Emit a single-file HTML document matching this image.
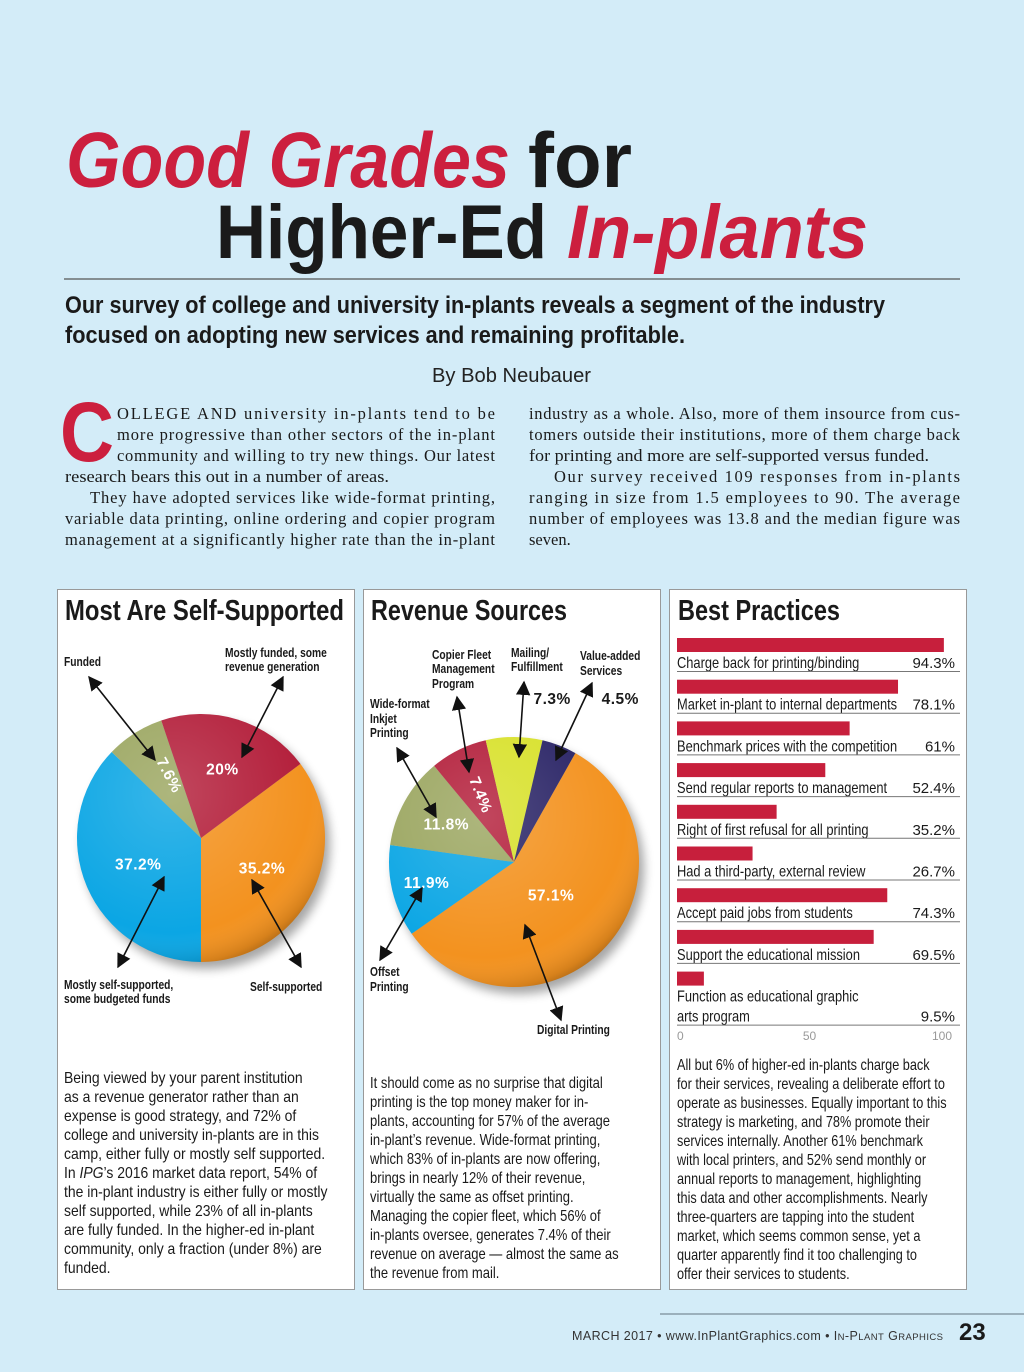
<!DOCTYPE html>
<html><head><meta charset="utf-8">
<style>
html,body{margin:0;padding:0;background:#d3ecf8;}
svg{display:block;}
.sans{font-family:"Liberation Sans",sans-serif;}
.serif{font-family:"Liberation Serif",serif;}
</style></head>
<body>
<svg id="page" width="1024" height="1372" viewBox="0 0 1024 1372" xmlns="http://www.w3.org/2000/svg">
<defs>
<radialGradient id="shade" cx="0.38" cy="0.32" r="0.75">
<stop offset="0" stop-color="#fff" stop-opacity="0.18"/>
<stop offset="0.75" stop-color="#fff" stop-opacity="0"/>
<stop offset="0.92" stop-color="#000" stop-opacity="0.12"/>
<stop offset="1" stop-color="#000" stop-opacity="0.35"/>
</radialGradient>
<filter id="blur" x="-20%" y="-20%" width="140%" height="140%"><feGaussianBlur stdDeviation="5"/></filter>
<marker id="ah" viewBox="0 0 10 10" refX="9" refY="5" markerWidth="9" markerHeight="9" orient="auto-start-reverse"><path d="M0,0 L10,5 L0,10 z" fill="#111"/></marker>
</defs>
<rect x="0" y="0" width="1024" height="1372" fill="#d3ecf8"/>

<!-- Headline -->
<g class="sans" font-weight="bold">
<text x="66" y="187" font-size="78" font-style="italic" fill="#cc1f3e" textLength="444" lengthAdjust="spacingAndGlyphs">Good Grades</text>
<text x="528" y="187" font-size="78" fill="#1a1a1a" textLength="104" lengthAdjust="spacingAndGlyphs">for</text>
<text x="216" y="258" font-size="76" fill="#1a1a1a" textLength="331" lengthAdjust="spacingAndGlyphs">Higher-Ed</text>
<text x="567" y="258" font-size="76" font-style="italic" fill="#cc1f3e" textLength="301" lengthAdjust="spacingAndGlyphs">In-plants</text>
</g>
<line x1="64" y1="279" x2="960" y2="279" stroke="#555" stroke-width="1.2"/>
<g class="sans" font-weight="bold" fill="#1a1a1a">
<text x="65" y="313" font-size="24" textLength="820" lengthAdjust="spacingAndGlyphs">Our survey of college and university in-plants reveals a segment of the industry</text>
<text x="65" y="343" font-size="24" textLength="620" lengthAdjust="spacingAndGlyphs">focused on adopting new services and remaining profitable.</text>
</g>
<text x="432" y="382" class="sans" font-size="20" fill="#222" textLength="159" lengthAdjust="spacingAndGlyphs">By Bob Neubauer</text>

<!-- Body text -->
<g class="serif" font-size="16.5" fill="#1a1a1a">
<text x="60" y="461" class="sans" font-weight="bold" font-size="84" fill="#cc1f3e" textLength="54" lengthAdjust="spacingAndGlyphs">C</text>
<text x="117" y="419" textLength="378" lengthAdjust="spacing">OLLEGE AND university in-plants tend to be</text>
<text x="117" y="440" textLength="378" lengthAdjust="spacing">more progressive than other sectors of the in-plant</text>
<text x="117" y="461" textLength="378" lengthAdjust="spacing">community and willing to try new things. Our latest</text>
<text x="65" y="482" textLength="324" lengthAdjust="spacingAndGlyphs">research bears this out in a number of areas.</text>
<text x="90" y="503" textLength="405" lengthAdjust="spacing">They have adopted services like wide-format printing,</text>
<text x="65" y="524" textLength="430" lengthAdjust="spacing">variable data printing, online ordering and copier program</text>
<text x="65" y="545" textLength="430" lengthAdjust="spacing">management at a significantly higher rate than the in-plant</text>
<text x="529" y="419" textLength="431" lengthAdjust="spacing">industry as a whole. Also, more of them insource from cus-</text>
<text x="529" y="440" textLength="431" lengthAdjust="spacing">tomers outside their institutions, more of them charge back</text>
<text x="529" y="461" textLength="400" lengthAdjust="spacingAndGlyphs">for printing and more are self-supported versus funded.</text>
<text x="554" y="482" textLength="406" lengthAdjust="spacing">Our survey received 109 responses from in-plants</text>
<text x="529" y="503" textLength="431" lengthAdjust="spacing">ranging in size from 1.5 employees to 90. The average</text>
<text x="529" y="524" textLength="431" lengthAdjust="spacing">number of employees was 13.8 and the median figure was</text>
<text x="529" y="545">seven.</text>
</g>

<!-- Panels -->
<rect x="57.5" y="589.5" width="297" height="700" fill="#fff" stroke="#999"/>
<rect x="363.5" y="589.5" width="297" height="700" fill="#fff" stroke="#999"/>
<rect x="669.5" y="589.5" width="297" height="700" fill="#fff" stroke="#999"/>
<g class="sans" font-weight="bold" font-size="29" fill="#1a1a1a">
<text x="65" y="620" textLength="279" lengthAdjust="spacingAndGlyphs">Most Are Self-Supported</text>
<text x="371" y="620" textLength="196" lengthAdjust="spacingAndGlyphs">Revenue Sources</text>
<text x="678" y="620" textLength="162" lengthAdjust="spacingAndGlyphs">Best Practices</text>
</g>

<g id="pie1"></g>
<g id="pie2"></g>
<g id="bars"></g>

<!-- Pie 1 annotations -->
<g class="sans" font-weight="bold" font-size="12.5" fill="#1a1a1a">
<g transform="translate(64,0) scale(0.82,1)"><text x="0" y="666">Funded</text></g>
<g transform="translate(225,0) scale(0.82,1)"><text x="0" y="657">Mostly funded, some</text><text x="0" y="671">revenue generation</text></g>
<g transform="translate(64,0) scale(0.82,1)"><text x="0" y="989">Mostly self-supported,</text><text x="0" y="1003">some budgeted funds</text></g>
<g transform="translate(250,0) scale(0.82,1)"><text x="0" y="991">Self-supported</text></g>
</g>
<g stroke="#111" stroke-width="1.6" marker-start="url(#ah)" marker-end="url(#ah)">
<line x1="89" y1="677" x2="155" y2="760"/>
<line x1="283" y1="677" x2="242" y2="757"/>
<line x1="164" y1="877" x2="118" y2="967"/>
<line x1="252" y1="880" x2="301" y2="967"/>
</g>

<!-- Pie 2 annotations -->
<g class="sans" font-weight="bold" font-size="12.5" fill="#1a1a1a">
<g transform="translate(432,0) scale(0.82,1)"><text x="0" y="659">Copier Fleet</text><text x="0" y="673">Management</text><text x="0" y="688">Program</text></g>
<g transform="translate(511,0) scale(0.82,1)"><text x="0" y="657">Mailing/</text><text x="0" y="671">Fulfillment</text></g>
<g transform="translate(580,0) scale(0.82,1)"><text x="0" y="660">Value-added</text><text x="0" y="675">Services</text></g>
<g transform="translate(370,0) scale(0.82,1)"><text x="0" y="708">Wide-format</text><text x="0" y="723">Inkjet</text><text x="0" y="737">Printing</text></g>
<g transform="translate(370,0) scale(0.82,1)"><text x="0" y="976">Offset</text><text x="0" y="991">Printing</text></g>
<g transform="translate(537,0) scale(0.82,1)"><text x="0" y="1034">Digital Printing</text></g>
</g>
<g stroke="#111" stroke-width="1.6" marker-start="url(#ah)" marker-end="url(#ah)">
<line x1="457" y1="697" x2="469" y2="772"/>
<line x1="524" y1="682" x2="519" y2="757"/>
<line x1="592" y1="683" x2="556" y2="760"/>
<line x1="397" y1="748" x2="436" y2="817"/>
<line x1="380" y1="960" x2="422" y2="888"/>
<line x1="525" y1="925" x2="561" y2="1020"/>
</g>

<!-- Panel text -->
<g class="sans" font-size="15.5" fill="#1a1a1a">
<g transform="translate(64,0) scale(0.9,1)">
<text x="0" y="1083">Being viewed by your parent institution</text>
<text x="0" y="1102">as a revenue generator rather than an</text>
<text x="0" y="1121">expense is good strategy, and 72% of</text>
<text x="0" y="1140">college and university in-plants are in this</text>
<text x="0" y="1159">camp, either fully or mostly self supported.</text>
<text x="0" y="1178">In <tspan font-style="italic">IPG</tspan>’s 2016 market data report, 54% of</text>
<text x="0" y="1197">the in-plant industry is either fully or mostly</text>
<text x="0" y="1216">self supported, while 23% of all in-plants</text>
<text x="0" y="1235">are fully funded. In the higher-ed in-plant</text>
<text x="0" y="1254">community, only a fraction (under 8%) are</text>
<text x="0" y="1273">funded.</text>
</g></g>
<g class="sans" font-size="15.5" fill="#1a1a1a">
<g transform="translate(370,0) scale(0.84,1)">
<text x="0" y="1088">It should come as no surprise that digital</text>
<text x="0" y="1107">printing is the top money maker for in-</text>
<text x="0" y="1126">plants, accounting for 57% of the average</text>
<text x="0" y="1145">in-plant’s revenue. Wide-format printing,</text>
<text x="0" y="1164">which 83% of in-plants are now offering,</text>
<text x="0" y="1183">brings in nearly 12% of their revenue,</text>
<text x="0" y="1202">virtually the same as offset printing.</text>
<text x="0" y="1221">Managing the copier fleet, which 56% of</text>
<text x="0" y="1240">in-plants oversee, generates 7.4% of their</text>
<text x="0" y="1259">revenue on average — almost the same as</text>
<text x="0" y="1278">the revenue from mail.</text>
</g></g>
<g class="sans" font-size="15.5" fill="#1a1a1a">
<g transform="translate(677,0) scale(0.82,1)">
<text x="0" y="1070">All but 6% of higher-ed in-plants charge back</text>
<text x="0" y="1089">for their services, revealing a deliberate effort to</text>
<text x="0" y="1108">operate as businesses. Equally important to this</text>
<text x="0" y="1127">strategy is marketing, and 78% promote their</text>
<text x="0" y="1146">services internally. Another 61% benchmark</text>
<text x="0" y="1165">with local printers, and 52% send monthly or</text>
<text x="0" y="1184">annual reports to management, highlighting</text>
<text x="0" y="1203">this data and other accomplishments. Nearly</text>
<text x="0" y="1222">three-quarters are tapping into the student</text>
<text x="0" y="1241">market, which seems common sense, yet a</text>
<text x="0" y="1260">quarter apparently find it too challenging to</text>
<text x="0" y="1279">offer their services to students.</text>
</g></g>

<!-- Footer -->
<line x1="660" y1="1314" x2="1024" y2="1314" stroke="#7a8c99" stroke-width="1.2"/>
<text x="572" y="1340" class="sans" font-size="12.5" fill="#333" textLength="371" lengthAdjust="spacing">MARCH 2017  •  www.InPlantGraphics.com  •  I<tspan font-size="9.5">N</tspan>-P<tspan font-size="9.5">LANT</tspan> G<tspan font-size="9.5">RAPHICS</tspan></text>
<text x="959" y="1340" class="sans" font-weight="bold" font-size="24" fill="#1a1a1a">23</text>
</svg>

<script>
const NS = "http://www.w3.org/2000/svg";
// Pie 1: self-supported
const pie1Categories = ["Self-supported", "Mostly self-supported", "Funded", "Mostly funded"];
const pie1Values = [35.2, 37.2, 7.6, 20];
const pie1Labels = ["35.2%", "37.2%", "7.6%", "20%"];
const pie1Colors = ["#f3921f", "#0ba6e4", "#9ba660", "#b31e3a"];
// Pie 2: revenue sources
const pie2Categories = ["Digital Printing", "Offset Printing", "Wide-format Inkjet", "Copier Fleet", "Mailing/Fulfillment", "Value-added"];
const pie2Values = [57.1, 11.9, 11.8, 7.4, 7.3, 4.5];
const pie2Labels = ["57.1%", "11.9%", "11.8%", "7.4%", "7.3%", "4.5%"];
const pie2Colors = ["#f3921f", "#0ba6e4", "#9ba660", "#b31e3a", "#d8e12a", "#2a2466"];
// Bars: best practices
const barCategories = ["Charge back for printing/binding", "Market in-plant to internal departments", "Benchmark prices with the competition", "Send regular reports to management", "Right of first refusal for all printing", "Had a third-party, external review", "Accept paid jobs from students", "Support the educational mission", "Function as educational graphic|arts program"];
const barValues = [94.3, 78.1, 61, 52.4, 35.2, 26.7, 74.3, 69.5, 9.5];
const barLabels = ["94.3%", "78.1%", "61%", "52.4%", "35.2%", "26.7%", "74.3%", "69.5%", "9.5%"];
const axisTicks = [0, 50, 100];

function mk(tag, attrs, parent) {
  const e = document.createElementNS(NS, tag);
  for (const k in attrs) e.setAttribute(k, attrs[k]);
  parent.appendChild(e);
  return e;
}
function pt(cx, cy, r, deg) {
  const a = (deg - 90) * Math.PI / 180;
  return [cx + r * Math.cos(a), cy + r * Math.sin(a)];
}
function drawPie(g, cx, cy, r, startDeg, values, colors, labels, labelSpec) {
  const total = values.reduce((a, b) => a + b, 0);
  const sh = mk("circle", {cx: cx + 5, cy: cy + 7, r: r, fill: "#000", opacity: 0.35, filter: "url(#blur)"}, g);
  
  
  let a0 = startDeg;
  values.forEach((v, i) => {
    const sweep = v / total * 360;
    const a1 = a0 + sweep;
    const p0 = pt(cx, cy, r, a0), p1 = pt(cx, cy, r, a1);
    const large = sweep > 180 ? 1 : 0;
    const p = mk("path", {d: `M${cx},${cy} L${p0[0]},${p0[1]} A${r},${r} 0 ${large} 1 ${p1[0]},${p1[1]} Z`, fill: colors[i]}, g);
    
    
    a0 = a1;
  });
  const ov = mk("circle", {cx: cx, cy: cy, r: r, fill: "url(#shade)"}, g);
  
  
  a0 = startDeg;
  values.forEach((v, i) => {
    const sweep = v / total * 360;
    const mid = a0 + sweep / 2;
    a0 += sweep;
    const s = labelSpec[i];
    let q = pt(cx, cy, r * s.f, mid);
    if (s.dx) q = [q[0] + s.dx, q[1]];
    if (s.dy) q = [q[0], q[1] + s.dy];
    const t = mk("text", {x: q[0], y: q[1] + 5, "text-anchor": "middle", fill: s.c || "#fff", "font-family": "Liberation Sans, sans-serif", "font-weight": "bold", "font-size": 15.5, "letter-spacing": "0.5"}, g);
    if (s.rot) t.setAttribute("transform", `rotate(${s.rot} ${q[0]} ${q[1]})`);
    t.textContent = labels[i];
    
    
  });
}

drawPie(document.getElementById("pie1"), 201, 838, 124, 53.3, pie1Values, pie1Colors, pie1Labels,
  [{f: 0.55}, {f: 0.55}, {f: 0.6, rot: 62, dx: 8}, {f: 0.58}]);
drawPie(document.getElementById("pie2"), 514, 862, 125, 29.4, pie2Values, pie2Colors, pie2Labels,
  [{f: 0.4}, {f: 0.72}, {f: 0.62}, {f: 0.6, rot: 68}, {f: 1.4, c: "#1a1a1a", dx: 38, dy: 12}, {f: 1.35, c: "#1a1a1a", dx: 45, dy: -6}]);

// Bars
const bars = document.getElementById("bars");
const x0 = 677, xScale = 2.83;
function xPos(v) { return x0 + v * xScale; }
function tickPos(v) { return x0 + v * 2.65; }
const rowTop = 638, rowPitch = 41.7;
barValues.forEach((v, i) => {
  const y = rowTop + i * rowPitch;
  const r = mk("rect", {x: x0, y: y, width: xPos(v) - x0, height: 14, fill: "#c71f3c"}, bars);
  
  
  const lines = barCategories[i].split("|");
  const last = lines.length - 1;
  const base = y + 30;
  lines.forEach((ln, j) => {
    const tg = mk("g", {transform: `translate(${x0},0) scale(0.83,1)`}, bars);
    const t = mk("text", {x: 0, y: base + j * 20, "font-family": "Liberation Sans, sans-serif", "font-size": 15.5, fill: "#1a1a1a"}, tg);
    t.textContent = ln;
    
    
  });
  const vt = mk("text", {x: 955, y: base + last * 20, "text-anchor": "end", "font-family": "Liberation Sans, sans-serif", "font-size": 15, fill: "#1a1a1a"}, bars);
  vt.textContent = barLabels[i];
  
  
  const ul = mk("line", {x1: x0, x2: 960, y1: base + last * 20 + 3.5, y2: base + last * 20 + 3.5, stroke: "#777", "stroke-width": 1}, bars);
  
  
});
axisTicks.forEach((v, i) => {
  const t = mk("text", {x: tickPos(v), y: 1040, "text-anchor": i === 0 ? "start" : (i === axisTicks.length - 1 ? "end" : "middle"), "font-family": "Liberation Sans, sans-serif", "font-size": 12, fill: "#999"}, bars);
  if (i === axisTicks.length - 1) t.setAttribute("x", tickPos(v) + 10);
  t.textContent = String(v);
  
  
});
</script>
</body></html>
